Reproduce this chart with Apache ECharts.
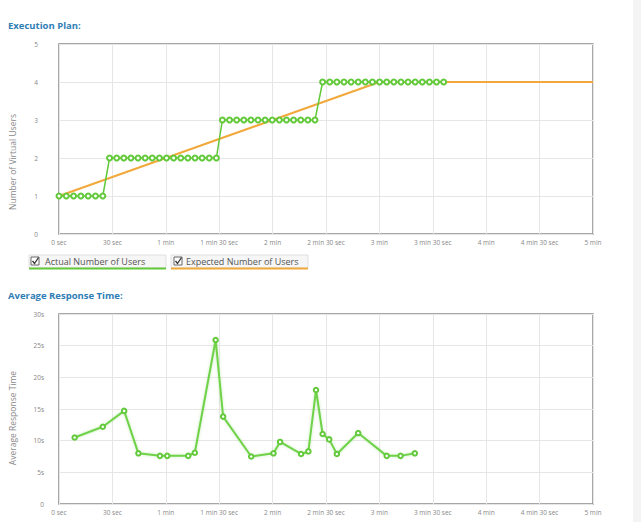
<!DOCTYPE html>
<html>
<head>
<meta charset="utf-8">
<script src="https://cdn.jsdelivr.net/npm/echarts@6/dist/echarts.min.js"></script>
<style>
html,body{margin:0;padding:0;background:#fff;}
#c{width:641px;height:522px;}
</style>
</head>
<body>
<div id="c"></div>
<script>
// ---- data ----
var xTickLabels = ["0 sec","30 sec","1 min","1 min 30 sec","2 min","2 min 30 sec","3 min","3 min 30 sec","4 min","4 min 30 sec","5 min"];
var usersTickLabels = ["0","1","2","3","4","5"];
var respTickLabels = ["0","5s","10s","15s","20s","25s","30s"];

var actualTimes = [0,4.1,8.2,12.3,16.4,20.5,24.6,
  28.4,32.4,36.4,40.4,44.4,48.4,52.4,56.4,60.4,64.4,68.4,72.4,76.4,80.4,84.4,88.4,
  91.8,95.8,99.8,103.8,107.8,111.8,115.8,119.8,123.8,127.8,131.8,135.8,139.8,143.8,
  148.1,152.1,156.1,160.1,164.1,168.1,172.1,176.1,180.1,184.1,188.1,192.1,196.1,200.1,204.1,208.1,212.1,216.1];
var actualUsers = [1,1,1,1,1,1,1,
  2,2,2,2,2,2,2,2,2,2,2,2,2,2,2,2,
  3,3,3,3,3,3,3,3,3,3,3,3,3,3,
  4,4,4,4,4,4,4,4,4,4,4,4,4,4,4,4,4,4];

var expectedTimes = [0,180,300];
var expectedUsers = [1,4,4];

var respTimes = [8.8,24.6,36.6,44.6,56.7,60.8,72.6,76.3,88.0,92.2,108.0,120.5,124.2,136.0,140.1,144.4,148.1,151.8,156.1,168.1,184.1,191.9,199.9];
var respValues = [10.5,12.2,14.7,8.0,7.6,7.6,7.6,8.1,25.9,13.8,7.5,8.0,9.8,7.9,8.3,18.0,11.05,10.2,7.9,11.2,7.6,7.6,8.0];

function pairs(xs, ys){ return xs.map(function(x,i){ return [x, ys[i]]; }); }

var FONT = "Open Sans";
var GREEN = "#62c93a";
var ORANGE = "#f0a93a";

var chart = echarts.init(document.getElementById('c'), null, {renderer:'svg'});

function xAxisCfg(gi){
  return {
    type:'value', gridIndex:gi, min:0, max:300, interval:30,
    axisLine:{show:false}, axisTick:{show:false},
    axisLabel:{fontSize:6.5, color:'#888', fontFamily:FONT, margin:5,
      formatter:function(v){ return xTickLabels[Math.round(v/30)]; }},
    splitLine:{show:true, lineStyle:{color:'#e6e6e6', width:1}}
  };
}

var option = {
  animation:false,
  backgroundColor:'#fff',
  textStyle:{fontFamily:FONT},
  title:[
    {text:'Execution Plan:', left:3, top:15, textStyle:{fontSize:9.5, fontWeight:'bold', color:'#2f7db5', fontFamily:FONT}},
    {text:'Average Response Time:', left:3, top:285, textStyle:{fontSize:9.5, fontWeight:'bold', color:'#2f7db5', fontFamily:FONT}}
  ],
  grid:[
    {left:57, top:44, width:536, height:190, show:true, borderColor:'#8a8a8a', borderWidth:1.5, backgroundColor:'#fff'},
    {left:57, top:314, width:536, height:190, show:true, borderColor:'#8a8a8a', borderWidth:1.5, backgroundColor:'#fff'}
  ],
  xAxis:[xAxisCfg(0), xAxisCfg(1)],
  yAxis:[
    {type:'value', gridIndex:0, min:0, max:5, interval:1,
      name:'Number of Virtual Users', nameLocation:'middle', nameGap:42,
      nameTextStyle:{fontSize:8.5, color:'#888', fontFamily:FONT, padding:[0,46,0,0]},
      axisLine:{show:false}, axisTick:{show:false},
      axisLabel:{fontSize:6.5, color:'#888', fontFamily:FONT, margin:21,
        formatter:function(v){ return usersTickLabels[Math.round(v)]; }},
      splitLine:{show:true, lineStyle:{color:'#e6e6e6', width:1}}},
    {type:'value', gridIndex:1, min:0, max:30, interval:5,
      name:'Average Response Time', nameLocation:'middle', nameGap:42,
      nameTextStyle:{fontSize:8.5, color:'#888', fontFamily:FONT, padding:[0,18,0,0]},
      axisLine:{show:false}, axisTick:{show:false},
      axisLabel:{fontSize:6.5, color:'#888', fontFamily:FONT, margin:15,
        formatter:function(v){ return respTickLabels[Math.round(v/5)]; }},
      splitLine:{show:true, lineStyle:{color:'#e6e6e6', width:1}}}
  ],
  series:[
    {name:'Expected Number of Users', type:'line', xAxisIndex:0, yAxisIndex:0,
      data:pairs(expectedTimes, expectedUsers), symbol:'none',
      lineStyle:{color:ORANGE, width:2}, z:2},
    {name:'Actual Number of Users', type:'line', xAxisIndex:0, yAxisIndex:0,
      data:pairs(actualTimes, actualUsers), symbol:'emptyCircle', symbolSize:5,
      itemStyle:{color:GREEN, borderColor:GREEN, borderWidth:1.2},
      lineStyle:{color:GREEN, width:1.5}, z:3},
    {name:'Average Response Time', type:'line', xAxisIndex:1, yAxisIndex:1,
      data:pairs(respTimes, respValues), symbol:'emptyCircle', symbolSize:4.5,
      itemStyle:{color:GREEN, borderColor:GREEN, borderWidth:1.2},
      lineStyle:{color:'#6fd24a', width:2, shadowColor:'rgba(98,201,58,0.35)', shadowBlur:3}, z:3}
  ],
  graphic:[
    {type:'rect', shape:{x:633, y:0, width:8, height:522}, style:{fill:'#f4f4f4'}, silent:true},
    // legend item 1
    {type:'rect', shape:{x:29, y:255, width:137, height:13}, style:{fill:'#f6f6f6', stroke:'#e0e0e0', lineWidth:1}},
    {type:'line', shape:{x1:29, y1:268.5, x2:166, y2:268.5}, style:{stroke:GREEN, lineWidth:2}},
    {type:'rect', shape:{x:31, y:257, width:8, height:8}, style:{fill:'#fff', stroke:'#666', lineWidth:1}},
    {type:'polyline', shape:{points:[[32.5,261],[34.5,263.5],[38.5,257.5]]}, style:{stroke:'#333', lineWidth:1.3, fill:null}},
    {type:'text', x:45, y:261.5, style:{text:'Actual Number of Users', fontSize:9, fill:'#555', fontFamily:FONT, verticalAlign:'middle', align:'left'}},
    // legend item 2
    {type:'rect', shape:{x:171, y:255, width:137, height:13}, style:{fill:'#f6f6f6', stroke:'#e0e0e0', lineWidth:1}},
    {type:'line', shape:{x1:171, y1:268.5, x2:308, y2:268.5}, style:{stroke:ORANGE, lineWidth:2}},
    {type:'rect', shape:{x:174, y:257, width:8, height:8}, style:{fill:'#fff', stroke:'#666', lineWidth:1}},
    {type:'polyline', shape:{points:[[175.5,261],[177.5,263.5],[181.5,257.5]]}, style:{stroke:'#333', lineWidth:1.3, fill:null}},
    {type:'text', x:186, y:261.5, style:{text:'Expected Number of Users', fontSize:9, fill:'#555', fontFamily:FONT, verticalAlign:'middle', align:'left'}}
  ]
};
chart.setOption(option);
</script>
</body>
</html>
